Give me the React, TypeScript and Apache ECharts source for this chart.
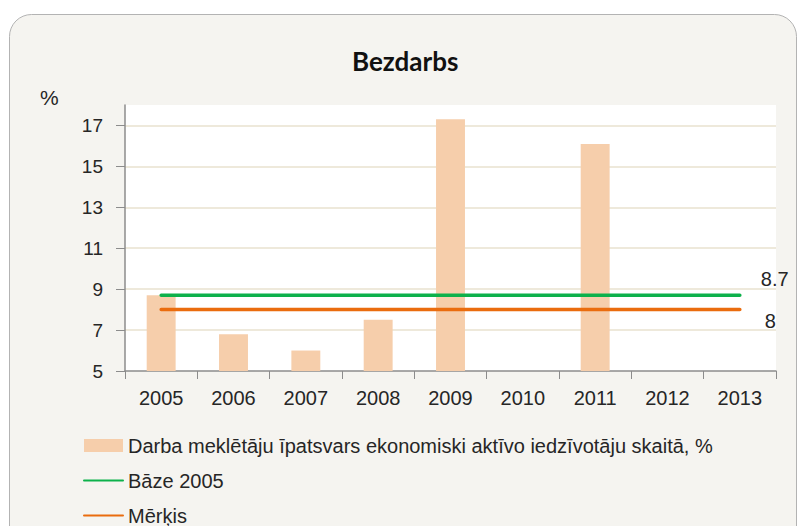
import React, { useEffect, useRef } from "react";
import * as echarts from "echarts";

const years = ["2005", "2006", "2007", "2008", "2009", "2010", "2011", "2012", "2013"];
const unemployment: (number | null)[] = [8.7, 6.8, 6.0, 7.5, 17.3, null, 16.1, null, null];
const base2005 = [8.7, 8.7, 8.7, 8.7, 8.7, 8.7, 8.7, 8.7, 8.7];
const target = [8, 8, 8, 8, 8, 8, 8, 8, 8];
const seriesNames = [
  "Darba meklētāju īpatsvars ekonomiski aktīvo iedzīvotāju skaitā, %",
  "Bāze 2005",
  "Mērķis",
];
const titleText = "Bezdarbs";
const unitLabel = "%";

const FONT = "'Liberation Sans', Arial, sans-serif";

export default function App() {
  const ref = useRef<HTMLDivElement>(null);
  useEffect(() => {
    if (!ref.current) return;
    const chart = echarts.init(ref.current, null, { renderer: "svg" });
    const endLabel = (offset: number[]) => ({
      show: true,
      offset,
      fontFamily: FONT,
      fontSize: 20,
      color: "#262626",
      formatter: (p: any) => String(p.value),
    });
    chart.setOption({
      animation: false,
      backgroundColor: "#ffffff",
      graphic: [
        {
          type: "rect",
          z: -100,
          shape: { x: 9.5, y: 14.5, width: 787, height: 560, r: 22 },
          style: { fill: "#f5f4f0", stroke: "#b3b3b3", lineWidth: 1 },
        },
        {
          type: "text",
          left: 40,
          top: 87,
          style: { text: unitLabel, fontFamily: FONT, fontSize: 21, fill: "#262626" },
        },
      ],
      title: {
        text: titleText,
        left: 352,
        top: 48,
        padding: 0,
        textStyle: { fontFamily: "Lato", fontWeight: "bold", fontSize: 26, color: "#111" },
      },
      grid: {
        left: 125,
        top: 105,
        right: 24,
        bottom: 155,
        show: true,
        backgroundColor: "#ffffff",
        borderWidth: 0,
      },
      legend: {
        orient: "vertical",
        left: 83,
        top: 435,
        padding: 0,
        height: 160,
        itemWidth: 39,
        itemHeight: 13,
        itemGap: 14,
        data: [
          { name: seriesNames[0], icon: "rect" },
          { name: seriesNames[1], itemStyle: { opacity: 0 } },
          { name: seriesNames[2], itemStyle: { opacity: 0 } },
        ],
        textStyle: { fontFamily: FONT, fontSize: 20, color: "#262626", lineHeight: 21 },
      },
      xAxis: {
        type: "category",
        data: years,
        boundaryGap: true,
        axisLine: { lineStyle: { color: "#8c8c8c", width: 1.5 } },
        axisTick: { show: true, length: 8, lineStyle: { color: "#8c8c8c" } },
        axisLabel: { fontFamily: FONT, fontSize: 20, color: "#262626", margin: 17 },
      },
      yAxis: {
        type: "value",
        min: 5,
        max: 18,
        interval: 2,
        axisLine: { show: true, lineStyle: { color: "#8c8c8c", width: 1.5 } },
        axisTick: { show: true, length: 9, lineStyle: { color: "#8c8c8c" } },
        axisLabel: {
          fontFamily: FONT,
          fontSize: 19,
          color: "#262626",
          margin: 22,
          showMaxLabel: false,
          formatter: (v: number) => (v === 18 ? "" : String(v)),
        },
        splitLine: {
          show: true,
          showMinLine: false,
          showMaxLine: false,
          lineStyle: { color: "#e8e2cf", width: 1.5 },
        },
      },
      series: [
        {
          name: seriesNames[0],
          type: "bar",
          data: unemployment,
          barWidth: "40%",
          itemStyle: { color: "#f6ceab" },
        },
        {
          name: seriesNames[1],
          type: "line",
          data: base2005,
          symbol: "none",
          lineStyle: { color: "#0db14b", width: 3.5, cap: "round" },
          itemStyle: { color: "#0db14b" },
          endLabel: endLabel([13, -16]),
        },
        {
          name: seriesNames[2],
          type: "line",
          data: target,
          symbol: "none",
          lineStyle: { color: "#ea6c0e", width: 3.5, cap: "round" },
          itemStyle: { color: "#ea6c0e" },
          endLabel: endLabel([17, 11]),
        },
      ],
    });
    return () => chart.dispose();
  }, []);
  return (
    <div
      ref={ref}
      style={{ position: "absolute", left: 0, top: 0, width: 800, height: 526 }}
    />
  );
}
